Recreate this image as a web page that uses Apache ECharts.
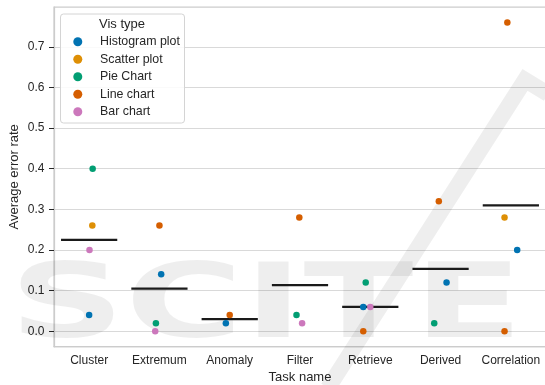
<!DOCTYPE html>
<html><head><meta charset="utf-8">
<script src="https://cdn.jsdelivr.net/npm/echarts@6/dist/echarts.min.js"></script>
<style>html,body{margin:0;padding:0;background:#fff}#c{width:545px;height:385px}</style>
</head><body><div id="c"></div>
<script>
// ---- data ----
const categories = ['Cluster', 'Extremum', 'Anomaly', 'Filter', 'Retrieve', 'Derived', 'Correlation'];
const visTypes = ['Histogram plot', 'Scatter plot', 'Pie Chart', 'Line chart', 'Bar chart'];
const yTickLabels = ['0.0', '0.1', '0.2', '0.3', '0.4', '0.5', '0.6', '0.7'];

const histogramTask   = [0, 1, 2, 4, 5, 6];
const histogramError  = [0.04, 0.14, 0.02, 0.06, 0.12, 0.20];
const histogramJitter = [0.0, 0.025, -0.055, -0.1, 0.085, 0.09];

const scatterTask   = [0, 6];
const scatterError  = [0.26, 0.28];
const scatterJitter = [0.045, -0.09];

const pieTask   = [0, 1, 3, 4, 5];
const pieError  = [0.40, 0.02, 0.04, 0.12, 0.02];
const pieJitter = [0.05, -0.05, -0.05, -0.065, -0.09];

const lineTask   = [1, 2, 3, 4, 5, 6, 6];
const lineError  = [0.26, 0.04, 0.28, 0.00, 0.32, 0.76, 0.00];
const lineJitter = [0.0, 0.0, -0.01, -0.1, -0.025, -0.05, -0.09];

const barTask   = [0, 1, 3, 4];
const barError  = [0.20, 0.00, 0.02, 0.06];
const barJitter = [0.005, -0.06, 0.03, 0.0];

// ---- build ----
const groups = [
  [histogramTask, histogramError, histogramJitter],
  [scatterTask, scatterError, scatterJitter],
  [pieTask, pieError, pieJitter],
  [lineTask, lineError, lineJitter],
  [barTask, barError, barJitter]
];
const palette = ['#0173b2', '#de8f05', '#029e73', '#d55e00', '#cc78bc'];
const FONT = '"Liberation Sans", Arial, sans-serif';
const TXT = '#262626';

const sums = categories.map(() => 0), counts = categories.map(() => 0);
groups.forEach(([t, e]) => t.forEach((ti, k) => { sums[ti] += e[k]; counts[ti] += 1; }));
const means = categories.map((c, i) => [i, sums[i] / counts[i]]);

const scatterSeries = groups.map(([t, e, j], s) => ({
  name: visTypes[s],
  type: 'scatter',
  xAxisIndex: 1,
  symbolSize: 6.5,
  z: 4,
  itemStyle: { color: palette[s], opacity: 1 },
  data: t.map((ti, k) => [ti + j[k], e[k]])
}));

const meanSeries = {
  name: 'mean',
  type: 'custom',
  xAxisIndex: 1,
  z: 3,
  silent: true,
  data: means,
  renderItem: function (params, api) {
    const a = api.coord([api.value(0) - 0.4, api.value(1)]);
    const b = api.coord([api.value(0) + 0.4, api.value(1)]);
    return { type: 'line', shape: { x1: a[0], y1: a[1], x2: b[0], y2: b[1] },
             style: { stroke: '#1a1a1a', lineWidth: 2.3 } };
  }
};

const chart = echarts.init(document.getElementById('c'), null, { renderer: 'canvas' });
chart.setOption({
  animation: false,
  backgroundColor: '#ffffff',
  textStyle: { fontFamily: FONT },
  grid: { left: 54, top: 7, width: 492, height: 339.7, show: true, containLabel: false,
          outerBoundsMode: 'none',
          borderColor: '#cccccc', borderWidth: 1.25, backgroundColor: 'transparent' },
  xAxis: [{
    type: 'category', data: categories, boundaryGap: true,
    name: 'Task name', nameLocation: 'middle', nameGap: 24, nameMoveOverlap: false,
    nameTextStyle: { fontSize: 13, color: TXT, fontFamily: FONT },
    axisLine: { onZero: false, lineStyle: { color: '#cccccc', width: 1.25 } },
    axisTick: { alignWithLabel: true, length: 4, lineStyle: { color: TXT, width: 1 } },
    axisLabel: { interval: 0, fontSize: 12, color: TXT, margin: 8, fontFamily: FONT },
    splitLine: { show: false }
  }, {
    type: 'value', min: -0.5, max: 6.5, show: false
  }],
  yAxis: {
    type: 'value', min: -0.038, max: 0.798, splitNumber: 8,
    name: 'Average error rate', nameLocation: 'middle', nameGap: 33, nameMoveOverlap: false,
    nameTextStyle: { fontSize: 13, color: TXT, fontFamily: FONT },
    axisLine: { show: true, onZero: false, lineStyle: { color: '#cccccc', width: 1.25 } },
    axisTick: { show: true, length: 5, lineStyle: { color: TXT, width: 1 } },
    axisLabel: { fontSize: 12, color: TXT, margin: 9.5, fontFamily: FONT,
                 showMinLabel: false, showMaxLabel: false,
                 formatter: v => { const i = Math.round(v * 10); return Math.abs(v * 10 - i) < 1e-6 ? (yTickLabels[i] || '') : ''; } },
    splitLine: { show: true, lineStyle: { color: '#d9d9d9', width: 1 } }
  },
  legend: {
    data: visTypes, orient: 'vertical', left: 73.3, top: 33, padding: 0,
    itemWidth: 9, itemHeight: 9, itemGap: 0, icon: 'circle', selectedMode: false, z: 6,
    textStyle: { fontSize: 12.4, lineHeight: 17.5, color: TXT, fontFamily: FONT, padding: [0, 0, 0, 12.7] }
  },
  graphic: [
    { type: 'text', z: 1, silent: true, left: 9, top: 258,
      scaleX: 1.55, style: { text: 'SCITE', font: 'bold 104px "DejaVu Sans"', fill: 'rgba(0,0,0,0.065)' } },
    { type: 'polyline', z: 1, silent: true,
      shape: { points: [[328, 388], [525, 80], [548, 94]] },
      style: { stroke: 'rgba(0,0,0,0.065)', lineWidth: 16, fill: null } },
    { type: 'rect', z: 5, silent: true,
      shape: { x: 60.5, y: 14, width: 124, height: 109, r: 3 },
      style: { fill: 'rgba(255,255,255,0.85)', stroke: '#d4d4d4', lineWidth: 1 } },
    { type: 'text', z: 7, silent: true, x: 122, y: 24,
      style: { text: 'Vis type', font: '13px ' + FONT, fill: TXT, textAlign: 'center', textVerticalAlign: 'middle' } }
  ],
  series: scatterSeries.concat([meanSeries])
});
</script></body></html>
